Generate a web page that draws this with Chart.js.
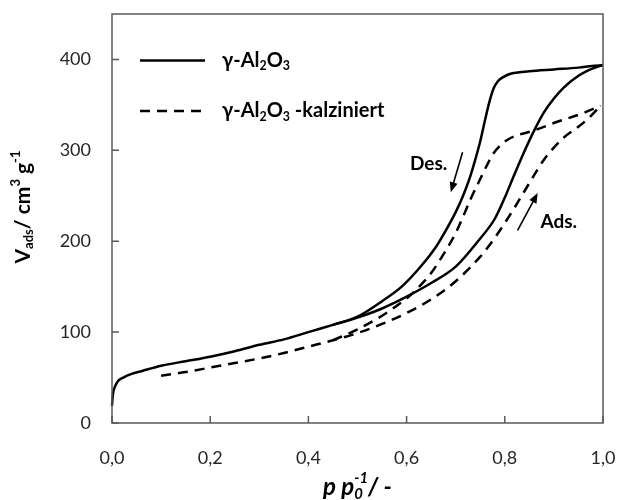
<!DOCTYPE html>
<html><head><meta charset="utf-8">
<script src="https://cdn.jsdelivr.net/npm/chart.js@4"></script>
<style>html,body{margin:0;padding:0;background:#fff}#wrap{width:617px;height:500px}</style>
</head><body><div id="wrap"><canvas id="c" width="617" height="500"></canvas></div>
<script>
// ---- data ----
const xTicks = [0, 0.2, 0.4, 0.6, 0.8, 1.0];
const yTicks = [0, 100, 200, 300, 400];

// γ-Al2O3 adsorption branch
const aluAdsX = [0, 0.002, 0.006, 0.012, 0.023, 0.04, 0.06, 0.1, 0.15, 0.2, 0.25, 0.3, 0.35, 0.4, 0.45, 0.5, 0.55, 0.6, 0.65, 0.7, 0.75, 0.78, 0.8, 0.82, 0.84, 0.86, 0.88, 0.9, 0.92, 0.95, 0.97, 1.0];
const aluAdsY = [19, 32, 40, 46, 50, 54, 57, 63, 68, 73, 79, 86, 92, 100, 108, 116, 126, 139, 154, 172, 203, 225, 248, 274, 299, 322, 342, 357, 369, 382, 388, 394];
// γ-Al2O3 desorption branch
const aluDesX = [0.45, 0.5, 0.55, 0.59, 0.63, 0.66, 0.68, 0.70, 0.715, 0.73, 0.74, 0.75, 0.76, 0.77, 0.778, 0.786, 0.795, 0.81, 0.85, 0.9, 0.95, 1.0];
const aluDesY = [108, 117, 134, 150, 173, 194, 212, 232, 250, 272, 290, 310, 334, 356, 369, 376, 380, 384, 387, 389, 391, 394];
// γ-Al2O3-kalziniert adsorption branch
const kalAdsX = [0.1, 0.15, 0.2, 0.25, 0.3, 0.35, 0.4, 0.45, 0.5, 0.55, 0.6, 0.65, 0.7, 0.75, 0.78, 0.8, 0.82, 0.84, 0.86, 0.88, 0.9, 0.92, 0.95, 0.97, 0.995];
const kalAdsY = [52, 56, 61, 66, 71, 77, 84, 91, 99, 109, 121, 136, 156, 183, 204, 220, 237, 255, 273, 290, 303, 314, 326, 335, 349];
// γ-Al2O3-kalziniert desorption branch
const kalDesX = [0.45, 0.5, 0.55, 0.575, 0.6, 0.62, 0.65, 0.68, 0.70, 0.715, 0.73, 0.745, 0.755, 0.765, 0.775, 0.79, 0.81, 0.86, 0.91, 0.955, 0.995];
const kalDesY = [91, 103, 118, 127, 137, 147, 165, 190, 209, 227, 246, 263, 274, 285, 295, 305, 313, 322, 332, 340, 349];

// annotations in data units: text anchor and arrow tail -> head
const annoLabels = ["Des.", "Ads."];
const annoTextX = [0.645, 0.910];
const annoTextY = [285, 221];
const arrowFromX = [0.714, 0.826];
const arrowFromY = [298, 212];
const arrowToX = [0.690, 0.867];
const arrowToY = [254, 253];

const FAMILY = 'Lato, "Open Sans", sans-serif';
const zip = (xs, ys) => xs.map((x, i) => ({x, y: ys[i]}));

function series(xs, ys, dashed) {
  return {
    data: zip(xs, ys), showLine: true, pointRadius: 0, borderColor: '#000',
    borderWidth: 2.5, borderDash: dashed ? [10, 7] : [], cubicInterpolationMode: 'monotone',
    fill: false, clip: false
  };
}

// rich text: segments with optional sub/sup and stacking
function drawRich(ctx, segs, x, y, align, size) {
  const fontOf = (s, sz) => `${s.italic ? 'italic ' : ''}${s.bold ? 'bold ' : ''}${sz}px ${FAMILY}`;
  const items = [];
  let cur = 0, prevStart = 0;
  for (const s of segs) {
    const sz = s.pos ? size * 0.62 : size;
    ctx.font = fontOf(s, sz);
    const w = ctx.measureText(s.t).width;
    let sx;
    if (s.stack) { sx = prevStart; cur = Math.max(cur, sx + w); }
    else { sx = cur; prevStart = sx; cur = sx + w; }
    const dy = s.pos === 'sub' ? size * 0.28 : s.pos === 'sup' ? -size * 0.36 : 0;
    items.push({s, sz, sx, dy});
  }
  const total = cur;
  const x0 = align === 'center' ? x - total / 2 : align === 'right' ? x - total : x;
  ctx.textAlign = 'left';
  ctx.textBaseline = 'middle';
  for (const it of items) {
    ctx.font = fontOf(it.s, it.sz);
    ctx.fillText(it.s.t, x0 + it.sx, y + it.dy);
  }
}

function arrow(ctx, x1, y1, x2, y2) {
  const a = Math.atan2(y2 - y1, x2 - x1), L = 10, W = 4;
  ctx.beginPath();
  ctx.moveTo(x1, y1);
  ctx.lineTo(x2 - Math.cos(a) * L * 0.8, y2 - Math.sin(a) * L * 0.8);
  ctx.lineWidth = 1.6; ctx.strokeStyle = '#000'; ctx.stroke();
  ctx.beginPath();
  ctx.moveTo(x2, y2);
  ctx.lineTo(x2 - Math.cos(a) * L + Math.sin(a) * W, y2 - Math.sin(a) * L - Math.cos(a) * W);
  ctx.lineTo(x2 - Math.cos(a) * L - Math.sin(a) * W, y2 - Math.sin(a) * L + Math.cos(a) * W);
  ctx.closePath(); ctx.fillStyle = '#000'; ctx.fill();
}

const decor = {
  id: 'decor',
  afterDraw(chart) {
    const {ctx, chartArea: ca, scales: {x, y}} = chart;
    ctx.save();
    // frame
    ctx.strokeStyle = '#595959'; ctx.lineWidth = 1.5;
    ctx.strokeRect(ca.left, ca.top, ca.right - ca.left, ca.bottom - ca.top);
    // inward tick marks
    ctx.beginPath();
    for (const t of x.ticks) { const px = x.getPixelForValue(t.value); ctx.moveTo(px, ca.bottom); ctx.lineTo(px, ca.bottom - 7); }
    for (const t of y.ticks) { const py = y.getPixelForValue(t.value); ctx.moveTo(ca.left, py); ctx.lineTo(ca.left + 7, py); }
    ctx.stroke();

    ctx.fillStyle = '#000';
    // x title
    drawRich(ctx, [
      {t: 'p p', bold: true, italic: true},
      {t: '0', bold: true, italic: true, pos: 'sub'},
      {t: '-1', bold: true, italic: true, pos: 'sup', stack: true},
      {t: '/ -', bold: true, italic: true}
    ], (ca.left + ca.right) / 2, 487, 'center', 24);
    // y title
    ctx.save();
    ctx.translate(23, 207);
    ctx.rotate(-Math.PI / 2);
    drawRich(ctx, [
      {t: 'V', bold: true},
      {t: 'ads', bold: true, pos: 'sub'},
      {t: '/ cm', bold: true},
      {t: '3', bold: true, pos: 'sup'},
      {t: ' g', bold: true},
      {t: '-1', bold: true, pos: 'sup'}
    ], 0, 0, 'center', 21);
    ctx.restore();

    // legend
    const lx1 = ca.left + 28, lx2 = ca.left + 93, tx = ca.left + 110;
    const ly = [ca.top + 46.5, ca.top + 97];
    ctx.strokeStyle = '#000'; ctx.lineWidth = 2.5;
    ctx.beginPath(); ctx.setLineDash([]); ctx.moveTo(lx1, ly[0]); ctx.lineTo(lx2, ly[0]); ctx.stroke();
    ctx.beginPath(); ctx.setLineDash([10, 7]); ctx.moveTo(lx1, ly[1]); ctx.lineTo(lx2, ly[1]); ctx.stroke();
    ctx.setLineDash([]);
    const base = [
      {t: 'γ-Al', bold: true}, {t: '2', bold: true, pos: 'sub'},
      {t: 'O', bold: true}, {t: '3', bold: true, pos: 'sub'}
    ];
    drawRich(ctx, base, tx, ly[0], 'left', 20);
    drawRich(ctx, base.concat([{t: ' -kalziniert', bold: true}]), tx, ly[1], 'left', 20);

    // annotations
    for (let i = 0; i < annoLabels.length; i++) {
      drawRich(ctx, [{t: annoLabels[i], bold: true}], x.getPixelForValue(annoTextX[i]), y.getPixelForValue(annoTextY[i]), 'center', 19);
      arrow(ctx, x.getPixelForValue(arrowFromX[i]), y.getPixelForValue(arrowFromY[i]),
                 x.getPixelForValue(arrowToX[i]), y.getPixelForValue(arrowToY[i]));
    }
    ctx.restore();
  }
};

new Chart(document.getElementById('c'), {
  type: 'scatter',
  data: {
    datasets: [
      series(aluAdsX, aluAdsY, false),
      series(aluDesX, aluDesY, false),
      series(kalAdsX, kalAdsY, true),
      series(kalDesX, kalDesY, true)
    ]
  },
  options: {
    responsive: false, animation: false, events: [],
    layout: {padding: {top: 14, right: 14, left: 0, bottom: 0}},
    plugins: {legend: {display: false}, tooltip: {enabled: false}},
    scales: {
      x: {
        type: 'linear', min: 0, max: 1,
        afterBuildTicks: s => { s.ticks = xTicks.map(v => ({value: v})); },
        afterFit: s => { s.height = 77; s.paddingLeft = 0; s.paddingRight = 0; s.paddingTop = 0; s.paddingBottom = 0; },
        grid: {display: false, drawTicks: false}, border: {display: false},
        ticks: {padding: 24, color: '#262626', font: {family: FAMILY, size: 18},
                callback: v => Number(v).toFixed(1).replace('.', ',')}
      },
      y: {
        type: 'linear', min: 0, max: 450,
        afterBuildTicks: s => { s.ticks = yTicks.map(v => ({value: v})); },
        afterFit: s => { s.width = 112; s.paddingLeft = 0; s.paddingRight = 0; s.paddingTop = 0; s.paddingBottom = 0; },
        grid: {display: false, drawTicks: false}, border: {display: false},
        ticks: {padding: 21, color: '#262626', font: {family: FAMILY, size: 18},
                callback: v => String(v)}
      }
    }
  },
  plugins: [decor]
});
</script>
</body></html>
